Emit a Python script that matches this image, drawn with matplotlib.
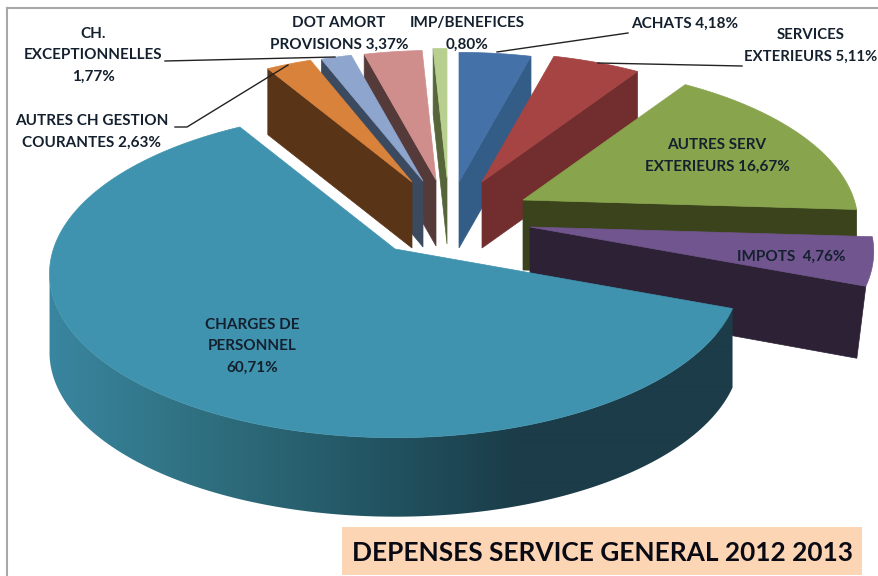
import numpy as np
import matplotlib
matplotlib.use("Agg")
import matplotlib.pyplot as plt
from matplotlib.patches import Polygon, Rectangle
from matplotlib.colors import to_rgb

plt.rcParams['font.family'] = ['Lato', 'DejaVu Sans']

# --- data ---
categories = ["ACHATS", "SERVICES EXTERIEURS", "AUTRES SERV EXTERIEURS", "IMPOTS",
              "CHARGES DE PERSONNEL", "AUTRES CH GESTION COURANTES",
              "CH. EXCEPTIONNELLES", "DOT AMORT PROVISIONS", "IMP/BENEFICES"]
values = [4.18, 5.11, 16.67, 4.76, 60.71, 2.63, 1.77, 3.37, 0.80]
top_colors = ["#4472A8", "#A54442", "#88A44C", "#71558E", "#3F93AE",
              "#D9823B", "#8EA5CE", "#CF8E8C", "#B9CF8F"]
wall_colors = ["#335C87", "#722E2E", "#3A431C", "#2C2135", "#1B3C48",
               "#5A3417", "#3B4A5E", "#553A3A", "#56653A"]
# exploded slice placement (pixels in the picture)
apex_x = [459, 482, 523, 530, 395, 412, 423, 436, 447]
apex_y = [182, 182, 200, 227, 249, 182, 181, 180, 178]
scale = [.92, .92, .96, .985, .99, .92, .92, .92, .92]
depth = [66, 66, 70, 72, 79, 66, 66, 66, 66]
lean = [0, 0, 0, -9, 0, 0, 0, 0, 0]
wall_side = ["end", "end", "end", "end", None, "start", "start", "start", "start"]
draw_order = [0, 1, 2, 3, 8, 7, 6, 5, 4]

A, B, K = 345.0, 162.0, 0.15

fig = plt.figure(figsize=(8.79, 5.76), dpi=100)
ax = fig.add_axes([0, 0, 1, 1])
ax.set_xlim(0, 879)
ax.set_ylim(576, 0)
ax.axis("off")


def project(i, theta):
    """theta: degrees clockwise from 12 o'clock -> picture pixels."""
    t = np.radians(theta)
    x, y = np.sin(t), np.cos(t)
    s = scale[i] / (1 + K * y)
    return apex_x[i] + A * x * s, apex_y[i] - B * y * s


edges = np.concatenate([[0], np.cumsum(values)]) * 3.6

grad_x = [47, 200, 400, 520, 740]
grad_c = np.array([to_rgb(c) for c in ["#3A86A0", "#2F7080", "#21505E", "#1B3C48", "#1B3C48"]])

for i in draw_order:
    a0, a1 = edges[i], edges[i + 1]
    d = depth[i]
    th = np.linspace(a0, a1, max(int(a1 - a0) * 2, 12))
    px, py = project(i, th)
    # outer wall: only the front half of the rim, up to the leftmost point
    if categories[i].startswith("CHARGES"):
        n = int(np.argmin(px)) + 1
        q = list(zip(px[:n], py[:n])) + list(zip(px[:n][::-1], py[:n][::-1] + d))
        clip = Polygon(q, closed=True, fc="none", ec="none", transform=ax.transData)
        ax.add_patch(clip)
        xs = np.arange(40, 745)
        row = np.stack([np.interp(xs, grad_x, grad_c[:, c]) for c in range(3)], axis=-1)[None, :, :]
        im = ax.imshow(row, extent=(40, 745, 530, 250), aspect="auto", interpolation="bilinear", zorder=1)
        im.set_clip_path(clip)
        ax.set_xlim(0, 879)
        ax.set_ylim(576, 0)
    # radial wall
    if wall_side[i]:
        k = -1 if wall_side[i] == "end" else 0
        ox, oy = px[k], py[k]
        q = [(apex_x[i], apex_y[i]), (ox, oy), (ox + lean[i], oy + d), (apex_x[i], apex_y[i] + d)]
        ax.add_patch(Polygon(q, closed=True, fc=wall_colors[i], ec=wall_colors[i], lw=0.5, zorder=1))
    # top face
    q = [(apex_x[i], apex_y[i])] + list(zip(px, py))
    ax.add_patch(Polygon(q, closed=True, fc=top_colors[i], ec=top_colors[i], lw=0.5, zorder=1))

# frame (top and left grey rules)
ax.plot([7, 7], [576, 8], color="#A8A8A8", lw=1.5, zorder=2)
ax.plot([7, 879], [8, 8], color="#A8A8A8", lw=1.5, zorder=2)

# leader lines
leaders = [([165, 335], [61, 57]), ([175, 187, 288], [127, 127, 65]),
           ([497, 628], [52, 33]), ([598, 742], [63, 66])]
for lx, ly in leaders:
    ax.plot(lx, ly, color="#222222", lw=1.0, zorder=2)

# labels
tc = "#14202E"
labels = [
    (93, 55, "CH.\nEXCEPTIONNELLES\n1,77%", 11),
    (92, 132, "AUTRES CH GESTION\nCOURANTES 2,63%", 11),
    (339, 34, "DOT AMORT\nPROVISIONS 3,37%", 11),
    (467, 34, "IMP/BENEFICES\n0,80%", 11),
    (685, 24, "ACHATS 4,18%", 11),
    (811, 46, "SERVICES\nEXTERIEURS 5,11%", 10.7),
    (717, 156, "AUTRES SERV\nEXTERIEURS 16,67%", 11),
    (791, 257, "IMPOTS  4,76%", 11),
    (252, 346, "CHARGES DE\nPERSONNEL\n60,71%", 11),
]
for x, y, s, fs in labels:
    ax.text(x, y, s, ha="center", va="center", fontsize=fs, fontweight="bold",
            color=tc, linespacing=1.68, clip_on=False, zorder=3)

# title box
ax.add_patch(Rectangle((342, 527), 520, 48, fc="#FCD5B5", ec="none", zorder=2))
ax.text(603, 553, "DEPENSES SERVICE GENERAL 2012 2013", ha="center", va="center",
        fontsize=18.9, fontweight="bold", color="#0A0A14", zorder=3)

fig.savefig("out.png", dpi=100)
